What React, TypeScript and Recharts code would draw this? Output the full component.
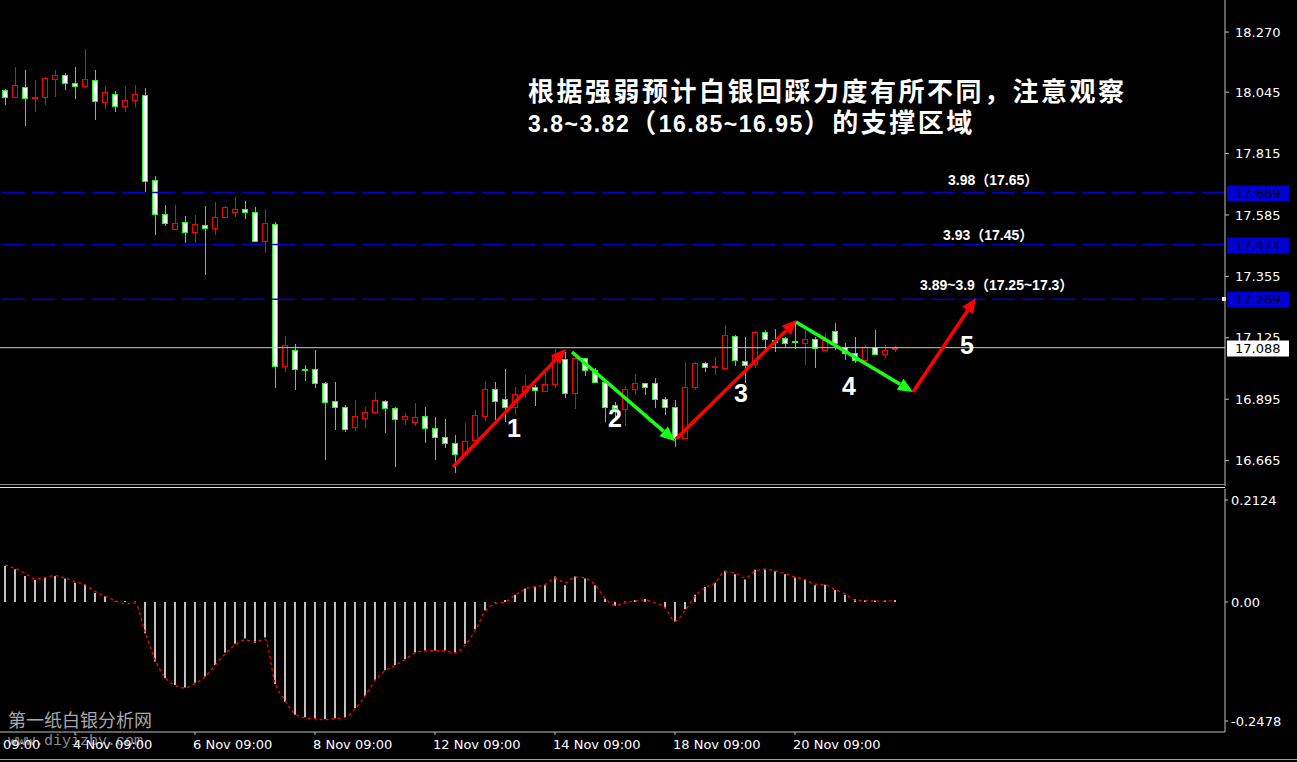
import {
  ComposedChart,
  Bar,
  Line,
  XAxis,
  YAxis,
  ReferenceLine,
  ReferenceDot,
} from 'recharts';

// 4H candles, oldest first
const opens = [
  18.053, 18.027, 18.064, 18.023, 18.027, 18.094, 18.109, 18.079, 18.068, 18.09,
  18.008, 18.038, 17.993, 18.016, 18.034, 17.716, 17.589, 17.532, 17.559, 17.521,
  17.547, 17.536, 17.577, 17.596, 17.607, 17.596, 17.487, 17.551, 17.019, 17.079,
  17.008, 17.008, 16.956, 16.888, 16.866, 16.791, 16.825, 16.847, 16.888, 16.862,
  16.821, 16.81, 16.832, 16.787, 16.753, 16.731, 16.69, 16.742, 16.832, 16.933,
  16.896, 16.866, 16.922, 16.941, 16.926, 16.952, 17.046, 16.918, 17.049, 17.004,
  16.959, 16.873, 16.858, 16.933, 16.956, 16.956, 16.896, 16.866, 16.75, 16.941,
  17.031, 17.016, 17.012, 17.132, 17.038, 17.027, 17.147, 17.117, 17.124, 17.113,
  17.105, 17.12, 17.079, 17.15, 17.091, 17.068, 17.042, 17.091, 17.064, 17.083,
];
const highs = [
  18.057, 18.139, 18.128, 18.09, 18.102, 18.128, 18.117, 18.139, 18.206, 18.128,
  18.068, 18.049, 18.068, 18.072, 18.06, 17.731, 17.622, 17.622, 17.581, 17.585,
  17.619, 17.634, 17.619, 17.652, 17.637, 17.615, 17.607, 17.559, 17.132, 17.102,
  17.023, 17.079, 16.959, 16.959, 16.873, 16.892, 16.866, 16.922, 16.892, 16.866,
  16.843, 16.881, 16.866, 16.828, 16.821, 16.761, 16.806, 16.855, 16.963, 16.959,
  17.008, 16.941, 16.986, 16.948, 16.993, 17.083, 17.072, 17.053, 17.049, 17.012,
  16.959, 16.885, 16.944, 16.989, 16.956, 16.974, 16.903, 16.892, 17.034, 17.034,
  17.034, 17.053, 17.173, 17.135, 17.128, 17.15, 17.154, 17.158, 17.128, 17.18,
  17.154, 17.128, 17.143, 17.18, 17.105, 17.128, 17.098, 17.154, 17.098, 17.094,
];
const lows = [
  17.997, 18.023, 17.918, 17.971, 17.997, 18.027, 18.053, 18.019, 18.06, 17.941,
  17.982, 17.971, 17.971, 17.989, 17.671, 17.51, 17.544, 17.529, 17.48, 17.48,
  17.36, 17.51, 17.574, 17.577, 17.57, 17.484, 17.443, 16.937, 16.997, 16.929,
  16.963, 16.937, 16.667, 16.78, 16.772, 16.776, 16.787, 16.84, 16.768, 16.641,
  16.798, 16.795, 16.731, 16.667, 16.712, 16.619, 16.69, 16.723, 16.813, 16.817,
  16.81, 16.836, 16.9, 16.87, 16.922, 16.937, 16.9, 16.858, 16.982, 16.959,
  16.81, 16.817, 16.795, 16.911, 16.911, 16.862, 16.836, 16.716, 16.75, 16.929,
  16.997, 16.986, 17.004, 17.019, 16.956, 17.012, 17.079, 17.072, 17.087, 17.083,
  17.023, 17.012, 17.079, 17.079, 17.042, 17.031, 17.034, 17.061, 17.049, 17.072,
];
const closes = [
  18.027, 18.072, 18.023, 18.027, 18.098, 18.109, 18.079, 18.068, 18.094, 18.012,
  18.045, 17.993, 18.016, 18.038, 17.712, 17.589, 17.555, 17.555, 17.521, 17.551,
  17.536, 17.577, 17.615, 17.607, 17.596, 17.487, 17.555, 17.019, 17.098, 17.008,
  17.004, 16.956, 16.885, 16.866, 16.783, 16.832, 16.847, 16.892, 16.862, 16.821,
  16.832, 16.828, 16.787, 16.753, 16.731, 16.69, 16.738, 16.836, 16.933, 16.888,
  16.866, 16.915, 16.944, 16.929, 16.952, 17.061, 16.918, 17.049, 17.004, 16.959,
  16.866, 16.862, 16.933, 16.956, 16.941, 16.896, 16.866, 16.75, 16.941, 17.031,
  17.016, 17.019, 17.135, 17.042, 17.023, 17.147, 17.12, 17.109, 17.105, 17.109,
  17.12, 17.087, 17.117, 17.105, 17.068, 17.042, 17.091, 17.064, 17.079, 17.088,
];

// MACD histogram and its signal
const macdHist = [
  0.075, 0.068, 0.054, 0.046, 0.05, 0.054, 0.049, 0.04, 0.037, 0.019,
  0.012, 0.001, 0.002, 0.001, -0.065, -0.124, -0.159, -0.173, -0.178, -0.168,
  -0.155, -0.131, -0.105, -0.087, -0.076, -0.085, -0.074, -0.171, -0.208, -0.235,
  -0.24, -0.242, -0.244, -0.242, -0.24, -0.221, -0.196, -0.162, -0.142, -0.131,
  -0.119, -0.105, -0.101, -0.101, -0.101, -0.105, -0.087, -0.057, -0.017, -0.001,
  0.004, 0.015, 0.028, 0.032, 0.035, 0.053, 0.035, 0.053, 0.049, 0.035,
  0.007, -0.008, 0.001, 0.004, 0.006, 0.0, -0.013, -0.041, -0.015, 0.015,
  0.031, 0.04, 0.065, 0.058, 0.047, 0.067, 0.069, 0.064, 0.058, 0.051,
  0.046, 0.035, 0.036, 0.025, 0.015, 0.006, 0.004, 0.003, 0.003, 0.004,
];
const macdSignal = [
  0.077, 0.07, 0.06, 0.048, 0.051, 0.055, 0.05, 0.042, 0.036, 0.022,
  0.012, 0.003, -0.004, -0.002, -0.062, -0.12, -0.157, -0.173, -0.179, -0.17,
  -0.156, -0.132, -0.108, -0.09, -0.079, -0.083, -0.078, -0.168, -0.205, -0.233,
  -0.241, -0.243, -0.245, -0.243, -0.241, -0.223, -0.196, -0.164, -0.143, -0.132,
  -0.12, -0.106, -0.102, -0.101, -0.102, -0.106, -0.09, -0.06, -0.02, -0.004,
  0.0, 0.014, 0.027, 0.032, 0.036, 0.05, 0.04, 0.052, 0.05, 0.036,
  0.008, -0.007, -0.002, 0.002, 0.004, -0.002, -0.012, -0.04, -0.018, 0.012,
  0.03, 0.04, 0.063, 0.06, 0.05, 0.064, 0.068, 0.065, 0.059, 0.052,
  0.047, 0.037, 0.036, 0.026, 0.017, 0.004, 0.003, 0.002, 0.002, 0.003,
];

const priceTicks = [16.665, 16.895, 17.125, 17.355, 17.585, 17.815, 18.045, 18.27];
const macdTicks = [-0.2478, 0, 0.2124];
const dateTickIdx = [7, 19, 31, 43, 55, 67, 79];
const dateTickLabels = [
  '4 Nov 09:00', '6 Nov 09:00', '8 Nov 09:00', '12 Nov 09:00',
  '14 Nov 09:00', '18 Nov 09:00', '20 Nov 09:00',
];

// horizontal levels
const levelValues = [17.669, 17.474, 17.269];
const lastPrice = 17.088;

// wave arrows
const waveFromIdx = [44.8, 56.7, 67.1, 79.1, 90.8];
const waveFromPrice = [16.641, 17.072, 16.746, 17.184, 16.922];
const waveToIdx = [56.1, 67.0, 79.2, 90.8, 97.1];
const waveToPrice = [17.083, 16.738, 17.192, 16.922, 17.274];
const waveUp = [true, false, true, false, true];
// wave numbers
const waveLabelIdx = [50.9, 61.0, 73.6, 84.4, 96.2];
const waveLabelPrice = [16.787, 16.825, 16.918, 16.944, 17.098];

const X_DOMAIN: [number, number] = [-0.5, 122];
const RED = '#ff0000';
const GREEN = '#1aff1a';
const AXIS = '#c0c0c0';
const TICK_FONT = { fill: '#ffffff', fontSize: 13, fontFamily: 'DejaVu Sans' };

const candles = opens.map((o, i) => ({
  idx: i,
  open: o,
  high: highs[i],
  low: lows[i],
  close: closes[i],
  range: [lows[i], highs[i]],
}));

const macd = macdHist.map((h, i) => ({ idx: i, hist: h, signal: macdSignal[i] }));

function Candle(props: any) {
  const { x, y, width, height, payload } = props;
  const { open, close, high, low } = payload;
  const cx = Math.floor(x + width / 2);
  const span = high - low || 1;
  const py = (v: number) => y + ((high - v) / span) * height;
  const bear = close < open;
  const edge = bear ? GREEN : RED;
  const top = Math.round(py(Math.max(open, close)));
  const bot = Math.round(py(Math.min(open, close)));
  return (
    <g>
      <line x1={cx + 0.5} x2={cx + 0.5} y1={Math.round(y)} y2={Math.round(y + height)} stroke={edge} strokeWidth={1} />
      <rect
        x={cx - 2.5}
        y={top + 0.5}
        width={5}
        height={Math.max(bot - top, 1)}
        fill={bear ? '#ffffff' : '#000000'}
        stroke={edge}
        strokeWidth={1}
      />
    </g>
  );
}

function PriceTag({ viewBox, text, bg, fg, marker }: any) {
  const right = viewBox.x + viewBox.width;
  const cy = Math.round(viewBox.y);
  return (
    <g>
      {marker && <rect x={right - 3} y={cy - 2} width={4} height={4} fill="#ffffff" />}
      <rect x={right + 2} y={cy - 7.5} width={62} height={16} fill={bg} />
      <text x={right + 10} y={cy + 5} fill={fg} fontSize={13} fontFamily="DejaVu Sans">
        {text}
      </text>
    </g>
  );
}

function Arrow(props: any) {
  const { x1, y1, x2, y2, color } = props;
  const a = Math.atan2(y2 - y1, x2 - x1);
  const len = 15;
  const w = 6.5;
  const bx = x2 - len * Math.cos(a);
  const by = y2 - len * Math.sin(a);
  const pts = [
    `${x2},${y2}`,
    `${bx + w * Math.sin(a)},${by - w * Math.cos(a)}`,
    `${bx - w * Math.sin(a)},${by + w * Math.cos(a)}`,
  ].join(' ');
  return (
    <g>
      <line x1={x1} y1={y1} x2={bx} y2={by} stroke={color} strokeWidth={3.5} />
      <polygon points={pts} fill={color} />
    </g>
  );
}

function DateTick({ x, payload }: any) {
  const k = dateTickIdx.indexOf(payload.value);
  return (
    <text x={x - 2} y={261} {...TICK_FONT}>
      {dateTickLabels[k]}
    </text>
  );
}

const overlay = (s: React.CSSProperties): React.CSSProperties => ({
  position: 'absolute',
  whiteSpace: 'nowrap',
  ...s,
});

const cjk = { fontFamily: "'Noto Sans CJK SC'", fontSize: 26, letterSpacing: 2.5 };

export default function App() {
  return (
    <div
      style={{
        position: 'fixed',
        left: 0,
        top: 0,
        width: 1297,
        height: 762,
        background: '#000000',
        overflow: 'hidden',
      }}
    >
      {/* site watermark */}
      <div style={overlay({ left: 8, top: 707, color: '#a8a8a8', fontSize: 18, fontFamily: "'Noto Sans CJK SC'", lineHeight: '24px' })}>
        第一纸白银分析网
      </div>
      <div style={overlay({ left: 8, top: 733, color: '#8c8c8c', fontSize: 15, fontFamily: "'Liberation Mono'", lineHeight: '18px' })}>
        www.diyizby.com
      </div>

      <div style={{ position: 'absolute', left: 0, top: 0 }}>
        <ComposedChart width={1297} height={486} data={candles} margin={{ top: 0, right: 0, bottom: 0, left: 0 }}>
          <XAxis type="number" dataKey="idx" domain={X_DOMAIN} allowDataOverflow hide />
          <YAxis
            orientation="right"
            width={72}
            domain={[16.57, 18.39]}
            allowDataOverflow
            ticks={priceTicks}
            tickFormatter={(v: number) => v.toFixed(3)}
            tick={TICK_FONT}
            tickSize={4}
            tickMargin={6}
            axisLine={{ stroke: AXIS }}
            tickLine={{ stroke: AXIS }}
          />
          <Bar dataKey="range" barSize={8} shape={<Candle />} isAnimationActive={false} />
          {levelValues.map((v, k) => (
            <ReferenceLine
              key={v}
              y={v}
              stroke="#0000c8"
              strokeWidth={1.5}
              strokeDasharray="23 7"
              label={(p: any) => (
                <PriceTag viewBox={p.viewBox} text={v.toFixed(3)} bg="#0000d0" fg="#000028" marker={k === 2} />
              )}
            />
          ))}
          <ReferenceLine
            y={lastPrice}
            stroke="#c8c8c8"
            strokeWidth={1}
            label={(p: any) => <PriceTag viewBox={p.viewBox} text={lastPrice.toFixed(3)} bg="#ffffff" fg="#000000" />}
          />
          {waveFromIdx.map((fx, k) => (
            <ReferenceLine
              key={`w${k}`}
              segment={[
                { x: fx, y: waveFromPrice[k] },
                { x: waveToIdx[k], y: waveToPrice[k] },
              ]}
              shape={(p: any) => <Arrow {...p} color={waveUp[k] ? RED : GREEN} />}
            />
          ))}
          {waveLabelIdx.map((lx, k) => (
            <ReferenceDot
              key={`n${k}`}
              x={lx}
              y={waveLabelPrice[k]}
              r={1}
              shape={(p: any) => (
                <text
                  x={p.cx}
                  y={p.cy + 9}
                  textAnchor="middle"
                  fill="#ffffff"
                  fontSize={25}
                  fontWeight="bold"
                  fontFamily="'Liberation Sans'"
                >
                  {k + 1}
                </text>
              )}
            />
          ))}
        </ComposedChart>
      </div>

      {/* panel separator */}
      <div style={overlay({ left: 0, top: 484, width: 1225, height: 1, background: '#8c8c8c' })} />
      <div style={overlay({ left: 0, top: 487, width: 1225, height: 1, background: '#e0e0e0' })} />

      <div style={{ position: 'absolute', left: 0, top: 488 }}>
        <ComposedChart width={1297} height={274} data={macd} margin={{ top: 1, right: 0, bottom: 0, left: 0 }}>
          <XAxis
            type="number"
            dataKey="idx"
            domain={X_DOMAIN}
            allowDataOverflow
            ticks={dateTickIdx}
            height={30}
            tick={<DateTick />}
            tickSize={3}
            axisLine={{ stroke: AXIS }}
            tickLine={{ stroke: AXIS }}
          />
          <YAxis
            orientation="right"
            width={72}
            domain={[-0.2707, 0.2353]}
            allowDataOverflow
            ticks={macdTicks}
            tickFormatter={(v: number) => (v === 0 ? '0.00' : v.toFixed(4))}
            tick={TICK_FONT}
            tickSize={3}
            tickMargin={3}
            axisLine={{ stroke: AXIS }}
            tickLine={{ stroke: AXIS }}
          />
          <Bar dataKey="hist" barSize={2} fill="#c0c0c0" isAnimationActive={false} />
          <Line
            dataKey="signal"
            type="monotone"
            stroke={RED}
            strokeWidth={1.3}
            strokeDasharray="3 3"
            dot={false}
            isAnimationActive={false}
          />
        </ComposedChart>
      </div>

      {/* first, clipped date label */}
      <div style={overlay({ left: -39, top: 737, color: '#ffffff', fontSize: 13, fontFamily: "'DejaVu Sans'", lineHeight: '16px' })}>
        1 Nov 09:00
      </div>
      <div style={overlay({ left: 0, top: 759, width: 1297, height: 1, background: '#a0a0a0' })} />

      {/* level notes */}
      {[
        { left: 948, top: 172, num: '3.98', paren: '17.65' },
        { left: 943, top: 227, num: '3.93', paren: '17.45' },
        { left: 920, top: 277, num: '3.89~3.9', paren: '17.25~17.3' },
      ].map((n) => (
        <div
          key={n.num}
          style={overlay({
            left: n.left,
            top: n.top,
            color: '#ffffff',
            fontWeight: 'bold',
            fontSize: 14,
            lineHeight: '16px',
            fontFamily: "'Liberation Sans', 'Noto Sans CJK SC'",
          })}
        >
          {n.num}（{n.paren}）
        </div>
      ))}

      {/* headline */}
      <div style={overlay({ left: 528, top: 75, color: '#ffffff', fontWeight: 'bold', lineHeight: '30px', ...cjk })}>
        根据强弱预计白银回踩力度有所不同，注意观察
      </div>
      <div
        style={overlay({
          left: 528,
          top: 106,
          color: '#ffffff',
          fontWeight: 'bold',
          lineHeight: '30px',
          fontFamily: "'Liberation Sans'",
          fontSize: 23,
          letterSpacing: 1.5,
        })}
      >
        3.8~3.82<span style={cjk}>（</span>16.85~16.95<span style={cjk}>）的支撑区域</span>
      </div>
    </div>
  );
}
